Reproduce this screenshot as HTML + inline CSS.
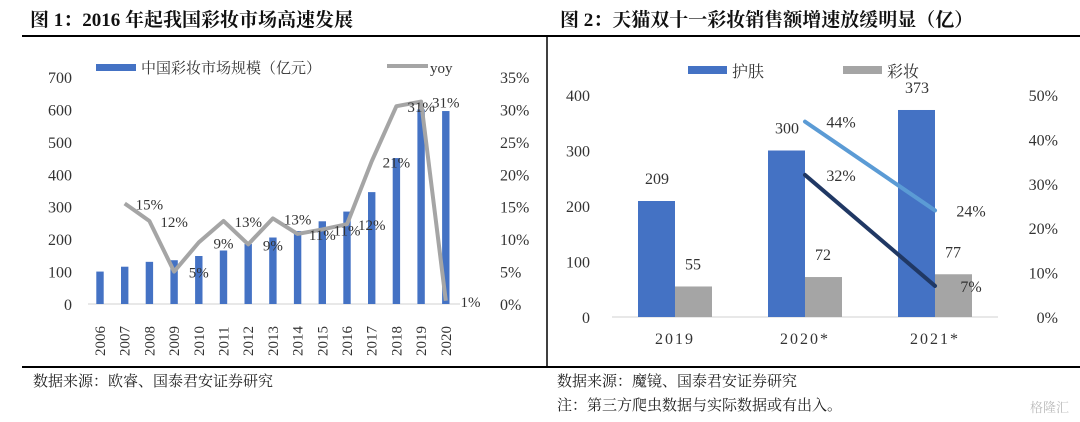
<!DOCTYPE html>
<html><head><meta charset="utf-8"><style>
body{margin:0;width:1080px;height:422px;background:#fff;overflow:hidden;font-family:"Liberation Serif","Noto Serif CJK SC",serif;}
svg{position:absolute;left:0;top:0}
</style></head><body>
<svg id="s" width="1080" height="422" xmlns="http://www.w3.org/2000/svg">
<text x="30" y="26" font-size="19" font-weight="bold" fill="#111">图 1：2016 年起我国彩妆市场高速发展</text>
<text x="560" y="26" font-size="19" font-weight="bold" fill="#111">图 2：天猫双十一彩妆销售额增速放缓明显（亿）</text>
<line x1="22" y1="36" x2="1080" y2="36" stroke="#000" stroke-width="2"/>
<line x1="547" y1="36" x2="547" y2="367" stroke="#000" stroke-width="1.5"/>
<line x1="22" y1="367" x2="1080" y2="367" stroke="#000" stroke-width="2"/>
<text x="33" y="386" font-size="15" fill="#222">数据来源：欧睿、国泰君安证券研究</text>
<text x="557" y="386" font-size="15" fill="#222">数据来源：魔镜、国泰君安证券研究</text>
<text x="557" y="410" font-size="15" fill="#222">注：第三方爬虫数据与实际数据或有出入。</text>
<text x="1030" y="412" font-size="13" fill="#bbb">格隆汇</text>
<g id="c1"></g><g id="c2"></g>
</svg>
<script>
const years=["2006","2007","2008","2009","2010","2011","2012","2013","2014","2015","2016","2017","2018","2019","2020"];
const market=[100,115,130,135,148,165,185,205,225,255,285,345,450,600,595];
const yoyVals=[null,15.5,12.8,5,9.5,12.8,9.2,13.2,10.8,11.5,12.3,22,30.5,31.2,0.5];
const yoyLabels=[null,"15%","12%","5%","9%","13%","9%","13%","11%","11%","12%","21%","31%","31%","1%"];
const leftTicks=[0,100,200,300,400,500,600,700];
const rightTicks=[0,5,10,15,20,25,30,35];

const cats2=["2019","2020*","2021*"];
const skin=[209,300,373];
const makeup=[55,72,77];
const skinGrowth=[null,44,24];
const makeupGrowth=[null,32,7];
const leftTicks2=[0,100,200,300,400];
const rightTicks2=[0,10,20,30,40,50];

const NS="http://www.w3.org/2000/svg";
function mk(p,t,a,txt){const e=document.createElementNS(NS,t);for(const k in a)e.setAttribute(k,a[k]);if(txt!=null)e.textContent=txt;p.appendChild(e);return e;}

// Chart 1
const g1=document.getElementById('c1');
const x1=i=>100+i*24.7, y1=v=>304-v*0.3243, y1r=v=>304-v*6.486;
mk(g1,'line',{x1:88,y1:304,x2:460,y2:304,stroke:'#d0d0d0','stroke-width':1});
leftTicks.forEach(t=>{const e=mk(g1,'text',{x:72,y:y1(t)+6,'font-size':16,'text-anchor':'end',fill:'#333'},t);

});
rightTicks.forEach(t=>{const e=mk(g1,'text',{x:500,y:y1r(t)+6,'font-size':16,'text-anchor':'start',fill:'#333'},t+'%');

});
years.forEach((yr,i)=>{const b=mk(g1,'rect',{x:x1(i)-3.7,y:y1(market[i]),width:7.4,height:304-y1(market[i]),fill:'#4472c4'});


const t=mk(g1,'text',{transform:`translate(${x1(i)+5},${356}) rotate(-90)`,'font-size':15,fill:'#333'},yr);

});
let pts=[];yoyVals.forEach((v,i)=>{if(v!=null)pts.push(x1(i)+','+y1r(v));});
const pl=mk(g1,'polyline',{points:pts.join(' '),fill:'none',stroke:'#a5a5a5','stroke-width':4,'stroke-linejoin':'round'});


yoyLabels.forEach((l,i)=>{if(!l)return;const e=mk(g1,'text',{x:x1(i+1),y:y1r(yoyVals[i])+6,'font-size':15,'text-anchor':'middle',fill:'#333'},l);

});
const lg1=mk(g1,'rect',{x:96,y:64,width:40,height:7,fill:'#4472c4'});


const lt1=mk(g1,'text',{x:141,y:73,'font-size':15,fill:'#333'},'中国彩妆市场规模（亿元）');


const lg2=mk(g1,'line',{x1:387,y1:66,x2:428,y2:66,stroke:'#a5a5a5','stroke-width':4});


const lt2=mk(g1,'text',{x:430,y:73,'font-size':15,fill:'#333'},'yoy');



// Chart 2
const g2=document.getElementById('c2');
const x2=i=>675+i*130, y2=v=>317-v*0.555, y2r=v=>317-v*4.44;
mk(g2,'line',{x1:612,y1:317,x2:998,y2:317,stroke:'#d0d0d0','stroke-width':1});
leftTicks2.forEach(t=>{const e=mk(g2,'text',{x:590,y:y2(t)+6,'font-size':16,'text-anchor':'end',fill:'#333'},t);

});
rightTicks2.forEach(t=>{const e=mk(g2,'text',{x:1058,y:y2r(t)+6,'font-size':16,'text-anchor':'end',fill:'#333'},t+'%');

});
cats2.forEach((c,i)=>{
const b=mk(g2,'rect',{x:x2(i)-37,y:y2(skin[i]),width:37,height:317-y2(skin[i]),fill:'#4472c4'});


const b2=mk(g2,'rect',{x:x2(i),y:y2(makeup[i]),width:37,height:317-y2(makeup[i]),fill:'#a5a5a5'});


const t1=mk(g2,'text',{x:x2(i)-18,y:y2(skin[i])-17,'font-size':16,'text-anchor':'middle',fill:'#333'},skin[i]);


const t2=mk(g2,'text',{x:x2(i)+18,y:y2(makeup[i])-17,'font-size':16,'text-anchor':'middle',fill:'#333'},makeup[i]);


const t3=mk(g2,'text',{x:x2(i),y:344,'font-size':16,'text-anchor':'middle',fill:'#333','letter-spacing':'2'},c);

});
function growthLine(arr,color,name){let p=[];arr.forEach((v,i)=>{if(v!=null)p.push(x2(i)+','+y2r(v));});
const l=mk(g2,'polyline',{points:p.join(' '),fill:'none',stroke:color,'stroke-width':4,'stroke-linecap':'round'});


arr.forEach((v,i)=>{if(v==null)return;const t=mk(g2,'text',{x:x2(i)+36,y:y2r(v)+6,'font-size':16,'text-anchor':'middle',fill:'#333'},v+'%');

});}
growthLine(skinGrowth,'#5b9bd5','skin-growth-line');
growthLine(makeupGrowth,'#203864','makeup-growth-line');
const s1=mk(g2,'rect',{x:688,y:66,width:39,height:8,fill:'#4472c4'});


const st1=mk(g2,'text',{x:732,y:77,'font-size':16,fill:'#333'},'护肤');


const s2=mk(g2,'rect',{x:843,y:66,width:39,height:8,fill:'#a5a5a5'});


const st2=mk(g2,'text',{x:887,y:77,'font-size':16,fill:'#333'},'彩妆');


</script>
</body></html>
